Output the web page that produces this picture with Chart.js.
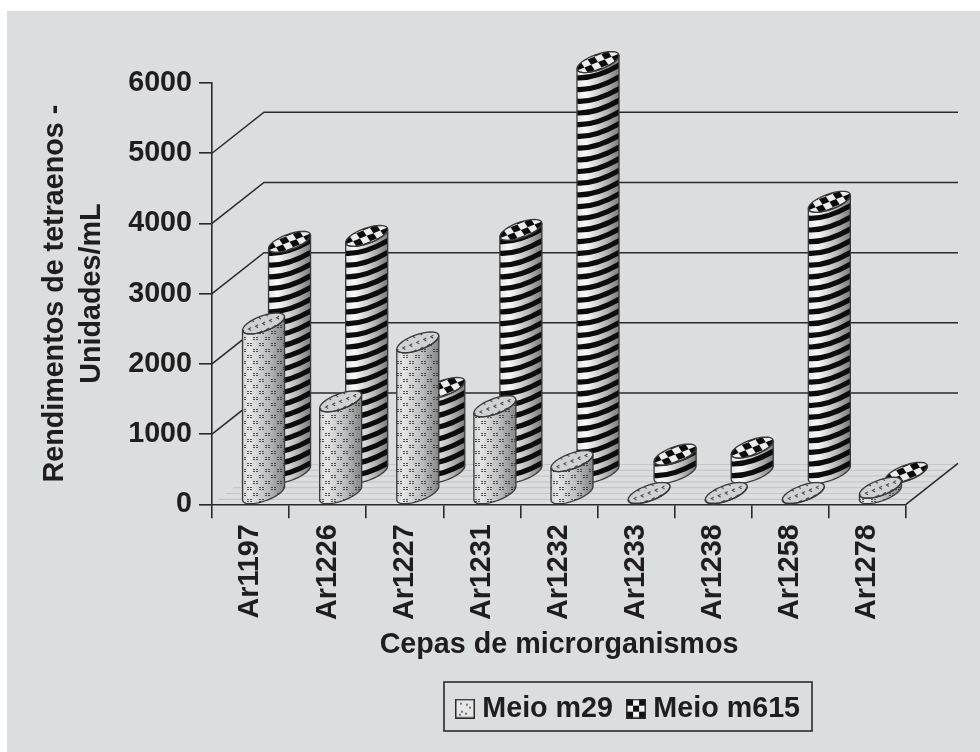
<!DOCTYPE html>
<html>
<head>
<meta charset="utf-8">
<title>Rendimentos de tetraenos</title>
<script src="https://cdn.jsdelivr.net/npm/chart.js@4"></script>
<style>
  html, body { margin: 0; padding: 0; background: #ffffff; }
  canvas { display: block; }
</style>
</head>
<body>
<canvas id="chart" width="980" height="752"></canvas>
<script>
const strains = ['Ar1197', 'Ar1226', 'Ar1227', 'Ar1231', 'Ar1232', 'Ar1233', 'Ar1238', 'Ar1258', 'Ar1278'];
const meioM29 = [2430, 1320, 2160, 1250, 470, 15, 15, 15, 90];
const meioM615 = [3300, 3385, 1220, 3470, 5860, 270, 370, 3870, 10];
const yTicks = [0, 1000, 2000, 3000, 4000, 5000, 6000];
const wallTicks = [1000, 2000, 3000, 4000, 5000];

const INK = '#1f1d1e';
const RULE = '#2b2a2b';
const PANEL = '#dcddde';
const DEPTH_X = 52;
const DEPTH_Y = 41;
const FAMILY = '"Liberation Sans", Arial, sans-serif';
const SIZE = 28.7;

// Speckle tile used on the light cylinders: staggered clusters of small dashes.
function speckleTile() {
  const c = document.createElement('canvas');
  c.width = 12; c.height = 12;
  const g = c.getContext('2d');
  g.fillStyle = 'rgba(45,45,45,0.8)';
  [[1, 1], [4, 1], [1, 3], [4, 3], [7, 7], [10, 7], [7, 9], [10, 9]].forEach(p => g.fillRect(p[0], p[1], 2, 1));
  return c;
}

function swatch(paint) {
  const c = document.createElement('canvas');
  c.width = 20; c.height = 20;
  const g = c.getContext('2d');
  paint(g);
  g.strokeStyle = RULE;
  g.lineWidth = 1.5;
  g.strokeRect(0.75, 0.75, 18.5, 18.5);
  return c;
}

const lightSwatch = swatch(g => {
  g.fillStyle = '#e6e6e6'; g.fillRect(0, 0, 20, 20);
  g.fillStyle = '#777';
  [[5, 4], [11, 5], [14, 8], [6, 12], [10, 14], [4, 15]].forEach(p => g.fillRect(p[0], p[1], 2, 2));
});
const checkSwatch = swatch(g => {
  g.fillStyle = '#f2f2f2'; g.fillRect(0, 0, 20, 20);
  g.fillStyle = '#111';
  for (let r = 0; r < 3; r++) for (let q = 0; q < 3; q++) {
    if ((r + q) % 2 === 0) g.fillRect(1 + q * 6, 1 + r * 6, 6, 6);
  }
});

// Outline of a floor circle seen in oblique projection.
function ringPoint(cx, cy, halfW, t) {
  const k = 10.5 / DEPTH_Y;
  const sx = DEPTH_X * k;
  const rx = Math.sqrt(Math.max(halfW * halfW - sx * sx, 1));
  return [cx + rx * Math.cos(t) + sx * Math.sin(t), cy - 10.5 * Math.sin(t)];
}
function ringRightAngle(halfW) {
  const k = 10.5 / DEPTH_Y;
  const sx = DEPTH_X * k;
  const rx = Math.sqrt(Math.max(halfW * halfW - sx * sx, 1));
  return Math.atan2(sx, rx);
}
function traceArc(ctx, cx, cy, halfW, from, to, move) {
  const steps = 36;
  for (let i = 0; i <= steps; i++) {
    const p = ringPoint(cx, cy, halfW, from + (to - from) * i / steps);
    if (i === 0 && move) ctx.moveTo(p[0], p[1]); else ctx.lineTo(p[0], p[1]);
  }
}

class CylinderElement extends Chart.BarElement {
  static id = 'cylinder';
  draw(ctx) {
    const ds = this.series;
    const cx = this.x + ds.depth * DEPTH_X;
    const top = this.y - ds.depth * DEPTH_Y;
    const bottom = this.base - ds.depth * DEPTH_Y;
    const halfW = this.width / 2;
    const tR = ringRightAngle(halfW);
    const tL = tR + Math.PI;

    const body = new Path2D();
    traceArc(body, cx, bottom, halfW, tL, tR + 2 * Math.PI, true);
    traceArc(body, cx, top, halfW, tR, tL - 2 * Math.PI, false);
    body.closePath();

    const cap = new Path2D();
    traceArc(cap, cx, top, halfW, 0, 2 * Math.PI, true);
    cap.closePath();

    ctx.save();
    const shade = ctx.createLinearGradient(cx - halfW, 0, cx + halfW, 0);
    if (ds.finish === 'speckle') {
      shade.addColorStop(0, '#d2d3d4');
      shade.addColorStop(0.15, '#e6e6e7');
      shade.addColorStop(0.6, '#bcbdbe');
      shade.addColorStop(1, '#858687');
    } else {
      shade.addColorStop(0, '#e4e4e4');
      shade.addColorStop(0.2, '#fafafa');
      shade.addColorStop(0.65, '#bcbcbc');
      shade.addColorStop(1, '#7c7c7c');
    }
    ctx.fillStyle = shade;
    ctx.fill(body);

    ctx.save();
    ctx.clip(body);
    if (ds.finish === 'speckle') {
      ctx.fillStyle = ctx.createPattern(speckleTile(), 'repeat');
      ctx.fill(body);
    } else {
      // Bands run nearly flat at the lit edge, then curve up across the shaded side.
      ctx.strokeStyle = '#0c0c0c';
      ctx.lineWidth = 5.2;
      for (let y = bottom + 8; y > top - 8; y -= 11.7) {
        ctx.beginPath();
        ctx.moveTo(cx - halfW - 1, y + 6.5);
        ctx.quadraticCurveTo(cx - halfW * 0.15, y + 8, cx + halfW + 1, y - 6.5);
        ctx.stroke();
      }
    }
    ctx.restore();

    // End face
    ctx.save();
    ctx.clip(cap);
    ctx.fillStyle = ds.finish === 'speckle' ? '#d0d1d2' : '#ececec';
    ctx.fill(cap);
    ctx.translate(cx, top);
    if (ds.finish === 'speckle') {
      ctx.strokeStyle = '#4c4c4c';
      ctx.lineWidth = 1.1;
      for (let i = -3; i <= 3; i++) {
        for (let j = -1; j <= 1; j++) {
          const px = i * 7 + j * 4;
          const py = -i * 2.8 + j * 6;
          ctx.beginPath();
          ctx.moveTo(px + 1.5, py - 1.5);
          ctx.lineTo(px - 1, py);
          ctx.lineTo(px + 1.5, py + 1.5);
          ctx.stroke();
        }
      }
    } else {
      ctx.transform(6.8, -2.7, 3.6, 5.4, 0, 0);
      ctx.fillStyle = '#0c0c0c';
      for (let q = -6; q <= 6; q++) {
        for (let r = -6; r <= 6; r++) {
          if ((q + r) % 2 === 0) ctx.fillRect(q, r, 1, 1);
        }
      }
    }
    ctx.restore();

    ctx.strokeStyle = '#3a3a3a';
    ctx.lineWidth = 1.3;
    ctx.stroke(body);
    ctx.stroke(cap);
    ctx.restore();
  }
}

class CylinderController extends Chart.BarController {
  static id = 'cylinder';
  static defaults = { ...Chart.BarController.defaults, dataElementType: 'cylinder' };
  static overrides = Chart.BarController.overrides;
  updateElements(rects, start, count, mode) {
    super.updateElements(rects, start, count, mode);
    // Each cylinder needs its series' depth and surface finish when drawn.
    for (let i = start; i < start + count; i++) rects[i].series = this.getDataset();
  }
}

Chart.register(CylinderController, CylinderElement);

// Panel behind everything, and the oblique wall and floor of the plot.
const stage = {
  id: 'stage',
  beforeDraw(chart) {
    const { ctx, width, height } = chart;
    ctx.save();
    ctx.fillStyle = PANEL;
    ctx.fillRect(7, 11, width - 7, height - 11);
    ctx.restore();
  },
  beforeDatasetsDraw(chart) {
    const { ctx, scales: { x, y } } = chart;
    const left = x.left, right = x.right, floorY = y.getPixelForValue(0);
    ctx.save();

    // Faint floor hatching
    ctx.strokeStyle = '#c6c7c8';
    ctx.lineWidth = 1.2;
    for (let d = 5; d <= DEPTH_Y; d += 5.8) {
      const shift = d * DEPTH_X / DEPTH_Y;
      ctx.beginPath();
      ctx.moveTo(left + shift, floorY - d);
      ctx.lineTo(right + shift, floorY - d);
      ctx.stroke();
    }

    ctx.strokeStyle = RULE;
    ctx.lineWidth = 1.5;
    wallTicks.forEach(v => {
      const py = y.getPixelForValue(v);
      ctx.beginPath();
      ctx.moveTo(left, py);
      ctx.lineTo(left + DEPTH_X, py - DEPTH_Y);
      ctx.lineTo(right + DEPTH_X, py - DEPTH_Y);
      ctx.stroke();
    });

    ctx.beginPath();
    ctx.moveTo(right, floorY);
    ctx.lineTo(right + DEPTH_X, floorY - DEPTH_Y);
    ctx.stroke();
    ctx.restore();
  },
  afterLayout(chart) {
    // The key sits in its own box below and to the right of the axis title.
    const lg = chart.legend;
    lg.left = 432; lg.right = 830; lg.width = 398;
    lg.top += 12; lg.bottom += 12;
  },
  afterDraw(chart) {
    const { ctx } = chart;
    ctx.save();
    ctx.strokeStyle = RULE;
    ctx.lineWidth = 1.6;
    ctx.strokeRect(444, 682, 368, 49);
    ctx.restore();
  }
};

new Chart(document.getElementById('chart'), {
  type: 'cylinder',
  data: {
    labels: strains,
    datasets: [
      { label: 'Meio m29', data: meioM29, depth: 0.25, finish: 'speckle', swatch: lightSwatch, grouped: false, clip: false },
      { label: 'Meio m615', data: meioM615, depth: 0.75, finish: 'stripes', swatch: checkSwatch, grouped: false, clip: false }
    ]
  },
  plugins: [stage],
  options: {
    responsive: false,
    animation: false,
    layout: { padding: { left: 37, right: 74, top: 83, bottom: 31 } },
    datasets: { cylinder: { barPercentage: 0.545, categoryPercentage: 1 } },
    plugins: {
      tooltip: { enabled: false },
      legend: {
        position: 'bottom',
        labels: {
          usePointStyle: true,
          boxWidth: 6,
          padding: 20,
          color: INK,
          font: { family: FAMILY, size: SIZE, weight: 'bold' },
          generateLabels: chart => chart.data.datasets.map((d, i) => ({
            text: d.label, pointStyle: d.swatch, datasetIndex: i, fontColor: INK, lineWidth: 0
          }))
        }
      }
    },
    scales: {
      x: {
        type: 'category',
        offset: true,
        afterFit: s => { s.height = 158; },
        border: { color: RULE, width: 1.6 },
        grid: { offset: true, drawOnChartArea: false, tickLength: 14, color: RULE, lineWidth: 1.6 },
        ticks: {
          maxRotation: 90, minRotation: 90, padding: 6, color: INK, autoSkip: false,
          font: { family: FAMILY, size: SIZE, weight: 'bold' }
        },
        title: {
          display: true, text: 'Cepas de microrganismos', color: INK, padding: 0,
          font: { family: FAMILY, size: SIZE, weight: 'bold', lineHeight: 1.2 }
        }
      },
      y: {
        type: 'linear',
        min: 0, max: 6000,
        afterBuildTicks: s => { s.ticks = yTicks.map(v => ({ value: v })); },
        afterFit: s => { s.width = 212 - 37; },
        border: { color: RULE, width: 1.6 },
        grid: { drawOnChartArea: false, tickLength: 13, color: RULE, lineWidth: 1.6 },
        ticks: {
          padding: 7, color: INK,
          callback: v => String(v),
          font: { family: FAMILY, size: SIZE, weight: 'bold' }
        },
        title: {
          display: true, text: ['Rendimentos de tetraenos -', 'Unidades/mL'], color: INK, padding: 0,
          font: { family: FAMILY, size: SIZE, weight: 'bold', lineHeight: 1.27 }
        }
      }
    }
  }
});
</script>
</body>
</html>
